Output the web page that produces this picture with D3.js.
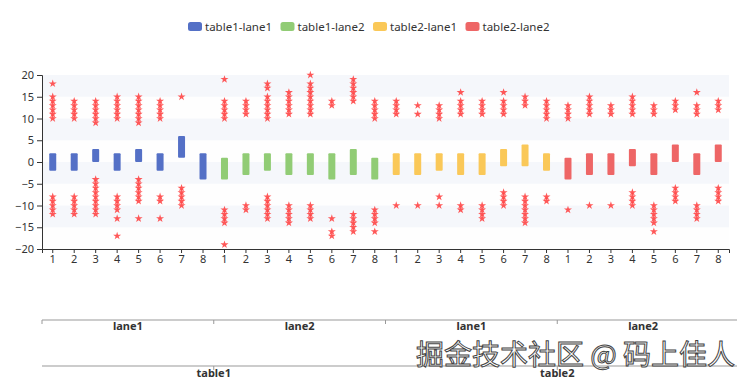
<!DOCTYPE html>
<html>
<head>
<meta charset="utf-8">
<script src="https://cdn.jsdelivr.net/npm/d3@7"></script>
<style>
  body { margin: 0; background: #fff; }
  text { font-family: "Noto Sans", "DejaVu Sans", sans-serif; }
</style>
</head>
<body>
<script>
var tables = ["table1", "table2"]
var lanes = ["lane1", "lane2"]
var cats = ["1", "2", "3", "4", "5", "6", "7", "8"]
var seriesNames = ["table1-lane1", "table1-lane2", "table2-lane1", "table2-lane2"]
var colors = ["#5470c6", "#91cc75", "#fac858", "#ee6666"]
var yTicks = [20, 15, 10, 5, 0, -5, -10, -15, -20]

// box low / high per series
var t1l1Low = [-2, -2, 0, -2, 0, -2, 1, -4]
var t1l1High = [2, 2, 3, 2, 3, 2, 6, 2]
var t1l2Low = [-4, -3, -2, -3, -3, -4, -3, -4]
var t1l2High = [1, 2, 2, 2, 2, 2, 3, 1]
var t2l1Low = [-3, -3, -2, -3, -3, -1, -1, -2]
var t2l1High = [2, 2, 2, 2, 2, 3, 4, 2]
var t2l2Low = [-4, -3, -3, -1, -3, 0, -3, 0]
var t2l2High = [1, 2, 2, 3, 2, 4, 2, 4]

// star points per column
var t1l1Stars = [
  [18, 15, 14, 13, 12, 11, 10, -8, -9, -10, -11, -12],
  [14, 13, 12, 11, 10, -8, -9, -10, -11, -12],
  [14, 13, 12, 11, 10, 9, -4, -5, -6, -7, -8, -9, -10, -11, -12],
  [15, 14, 13, 12, 11, 10, -8, -9, -10, -11, -13, -17],
  [15, 14, 13, 12, 11, 10, 9, -4, -5, -6, -7, -8, -9, -13],
  [14, 13, 12, 11, 10, -8, -9, -13],
  [15, -6, -7, -8, -9, -10],
  []
]
var t1l2Stars = [
  [19, 14, 13, 12, 11, 10, -11, -12, -13, -14, -19],
  [14, 13, 12, 11, -10, -11],
  [18, 17, 15, 14, 13, 12, 11, 10, -8, -9, -10, -11, -12, -13],
  [16, 15, 14, 13, 12, 11, -10, -11, -12, -13, -14],
  [20, 18, 17, 16, 15, 14, 13, 12, 11, -10, -11, -12, -13],
  [14, 13, -13, -16, -17],
  [19, 18, 17, 16, 15, 14, -12, -13, -14, -15, -16],
  [14, 13, 12, 11, 10, -11, -12, -13, -14, -16]
]
var t2l1Stars = [
  [14, 13, 12, 11, -10],
  [13, 11, -10],
  [13, 12, 11, 10, -8, -10],
  [16, 14, 13, 12, 11, -10, -11],
  [14, 13, 12, 11, -10, -11, -12, -13],
  [16, 14, 13, 12, 11, -7, -8, -9, -10],
  [15, 14, 13, -8, -9, -10, -11, -12, -13, -14],
  [14, 13, 12, 11, 10, -8, -9]
]
var t2l2Stars = [
  [13, 12, 11, 10, -11],
  [15, 14, 13, 12, 11, -10],
  [13, 12, 11, -10],
  [15, 14, 13, 12, 11, -7, -8, -9, -10],
  [13, 12, 11, -10, -11, -12, -13, -14, -16],
  [14, 13, 12, -6, -7, -8, -9],
  [16, 13, 12, 11, -10, -11, -12, -13],
  [14, 13, 12, -6, -7, -8, -9]
]

var lows = [t1l1Low, t1l2Low, t2l1Low, t2l2Low]
var highs = [t1l1High, t1l2High, t2l1High, t2l2High]
var stars = [t1l1Stars, t1l2Stars, t2l1Stars, t2l2Stars]

var W = 745, H = 385
var plotLeft = 42, plotRight = 729, plotTop = 75, plotBottom = 249

var svg = d3.select("body").append("svg")
  .attr("width", W)
  .attr("height", H)

// one key per column: series index + category
var keys = []
var boxes = []
var points = []
seriesNames.forEach(function(s, si) {
  cats.forEach(function(c, ci) {
    var k = si + "-" + c
    keys.push(k)
    boxes.push({key: k, s: si, low: lows[si][ci], high: highs[si][ci]})
    stars[si][ci].forEach(function(v) { points.push({key: k, v: v}) })
  })
})

var x = d3.scaleBand().domain(keys).range([plotLeft, plotRight])
var y = d3.scaleLinear().domain([-20, 20]).range([plotBottom, plotTop])
var laneX = d3.scaleBand().domain(d3.range(4)).range([plotLeft, plotRight])
var tableX = d3.scaleBand().domain(tables).range([plotLeft, plotRight])

// split areas
var bandsData = d3.range(8).map(function(i) { return -20 + i * 5 })
svg.append("g").selectAll("rect")
  .data(bandsData)
  .enter().append("rect")
  .attr("x", plotLeft)
  .attr("width", plotRight - plotLeft)
  .attr("y", function(d) { return y(d + 5) })
  .attr("height", function(d) { return y(d) - y(d + 5) })
  .attr("fill", function(d, i) { return i % 2 ? "rgba(210,219,238,0.22)" : "rgba(250,250,250,0.2)" })

// boxes
var bw = 7
svg.append("g").selectAll("rect")
  .data(boxes)
  .enter().append("rect")
  .attr("x", function(d) { return x(d.key) + x.bandwidth() / 2 - bw / 2 })
  .attr("width", bw)
  .attr("y", function(d) { return y(d.high) })
  .attr("height", function(d) { return y(d.low) - y(d.high) })
  .attr("rx", 1)
  .attr("fill", function(d) { return colors[d.s] })

// stars
var star = d3.symbol().type(d3.symbolStar).size(20)
svg.append("g").selectAll("path")
  .data(points)
  .enter().append("path")
  .attr("d", star)
  .attr("transform", function(d) { return "translate(" + (x(d.key) + x.bandwidth() / 2) + "," + y(d.v) + ")" })
  .attr("fill", "#ff3b3b")
  .attr("opacity", 0.85)

// y axis
var yAxis = svg.append("g")
  .attr("transform", "translate(" + plotLeft + ",0)")
  .call(d3.axisLeft(y).tickValues(yTicks).tickSize(5).tickPadding(3))
yAxis.select(".domain").attr("stroke", "#333")
yAxis.selectAll(".tick line").attr("stroke", "#333")
yAxis.selectAll("text").attr("fill", "#333").attr("font-size", 11).style("font-family", "Noto Sans, sans-serif")

// x axis (categories)
var xAxis = svg.append("g")
  .attr("transform", "translate(0," + plotBottom + ")")
  .call(d3.axisBottom(x).tickSize(4).tickPadding(2).tickFormat(function(k) { return k.split("-")[1] }))
xAxis.select(".domain").attr("stroke", "#333")
xAxis.selectAll(".tick line").attr("stroke", "#333")
xAxis.selectAll("text").attr("fill", "#333").attr("font-size", 11).style("font-family", "Noto Sans, sans-serif")

// lane axis
var laneY = 320
svg.append("line")
  .attr("x1", plotLeft).attr("x2", plotRight + 8)
  .attr("y1", laneY).attr("y2", laneY)
  .attr("stroke", "#999")
svg.append("g").selectAll("line")
  .data(d3.range(4))
  .enter().append("line")
  .attr("x1", function(d) { return laneX(d) }).attr("x2", function(d) { return laneX(d) })
  .attr("y1", laneY).attr("y2", laneY + 4)
  .attr("stroke", "#999")
svg.append("g").selectAll("text")
  .data(d3.range(4))
  .enter().append("text")
  .attr("x", function(d) { return laneX(d) + laneX.bandwidth() / 2 })
  .attr("y", laneY + 10)
  .attr("text-anchor", "middle")
  .attr("font-size", 11)
  .attr("font-weight", "bold")
  .attr("fill", "#333")
  .text(function(d) { return lanes[d % 2] })

// table axis
var tableY = 366
svg.append("line")
  .attr("x1", plotLeft).attr("x2", plotRight + 8)
  .attr("y1", tableY).attr("y2", tableY)
  .attr("stroke", "#999")
svg.append("g").selectAll("line")
  .data(tables)
  .enter().append("line")
  .attr("x1", function(d) { return tableX(d) + tableX.bandwidth() / 2 })
  .attr("x2", function(d) { return tableX(d) + tableX.bandwidth() / 2 })
  .attr("y1", tableY).attr("y2", tableY + 4)
  .attr("stroke", "#999")
svg.append("g").selectAll("text")
  .data(tables)
  .enter().append("text")
  .attr("x", function(d) { return tableX(d) + tableX.bandwidth() / 2 })
  .attr("y", tableY + 11)
  .attr("text-anchor", "middle")
  .attr("font-size", 11)
  .attr("font-weight", "bold")
  .attr("fill", "#333")
  .text(function(d) { return d })

// legend
var legend = svg.append("g").selectAll("g")
  .data(seriesNames)
  .enter().append("g")
  .attr("transform", function(d, i) { return "translate(" + (188 + i * 92.5) + ",22)" })
legend.append("rect")
  .attr("width", 14).attr("height", 9).attr("rx", 2.5)
  .attr("fill", function(d, i) { return colors[i] })
legend.append("text")
  .attr("x", 17).attr("y", 8.5)
  .attr("font-size", 11.5)
  .attr("fill", "#333")
  .text(function(d) { return d })

// watermark
svg.append("text")
  .attr("x", 735).attr("y", 365)
  .attr("text-anchor", "end")
  .attr("font-size", 28)
  .style("font-family", "Noto Sans CJK SC, sans-serif")
  .attr("fill", "#fff")
  .attr("stroke", "#444")
  .attr("stroke-width", 1)
  .text("掘金技术社区 @ 码上佳人")
</script>
</body>
</html>
